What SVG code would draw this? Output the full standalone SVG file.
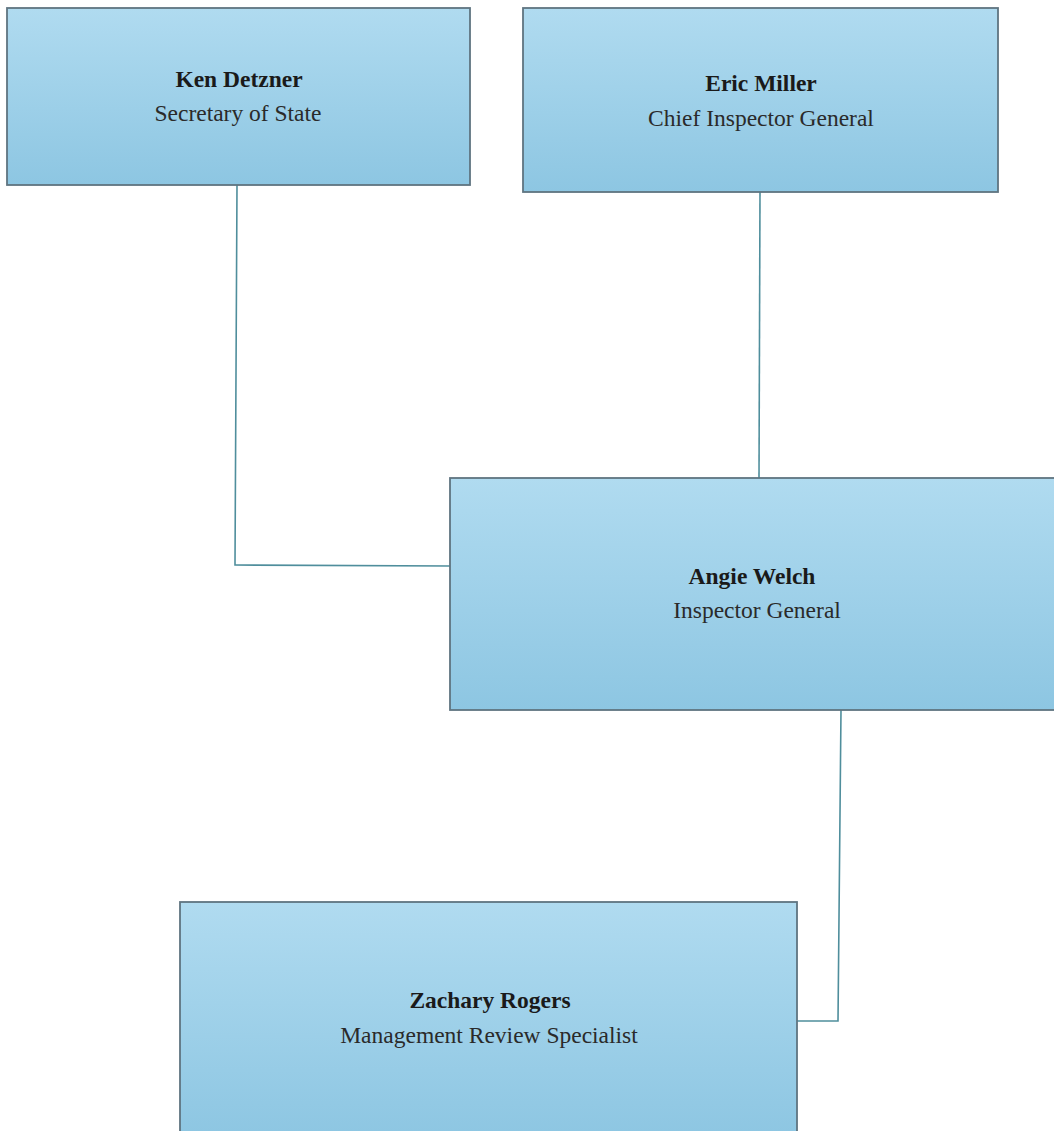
<svg xmlns="http://www.w3.org/2000/svg" width="1054" height="1131" viewBox="0 0 1054 1131">
<defs>
<linearGradient id="g" x1="0" y1="0" x2="0" y2="1">
<stop offset="0" stop-color="#b0dbf0"/>
<stop offset="1" stop-color="#8dc6e2"/>
</linearGradient>
<style>
.box{fill:url(#g);stroke:#5f7480;stroke-width:1.8}
.name{font-family:"Liberation Serif",serif;font-size:23.5px;font-weight:bold;fill:#1a1a1a;text-anchor:middle}
.title{font-family:"Liberation Serif",serif;font-size:23.5px;fill:#2a2a2a;text-anchor:middle}
.con{fill:none;stroke:#4f8e9c;stroke-width:1.6}
</style>
</defs>
<rect width="1054" height="1131" fill="#ffffff"/>
<g id="connectors">
<polyline class="con" points="237,185 235,565 450,566"/>
<line class="con" x1="760" y1="192" x2="759" y2="478"/>
<polyline class="con" points="841,710 838,1021 797,1021"/>
</g>
<g id="ken">
<rect class="box" x="7" y="8" width="463" height="177"/>
<text class="name" x="239" y="87">Ken Detzner</text>
<text class="title" x="238" y="121">Secretary of State</text>
</g>
<g id="eric">
<rect class="box" x="523" y="8" width="475" height="184"/>
<text class="name" x="761" y="91">Eric Miller</text>
<text class="title" x="761" y="126">Chief Inspector General</text>
</g>
<g id="angie">
<rect class="box" x="450" y="478" width="610" height="232"/>
<text class="name" x="752" y="584">Angie Welch</text>
<text class="title" x="757" y="618">Inspector General</text>
</g>
<g id="zachary">
<rect class="box" x="180" y="902" width="617" height="235"/>
<text class="name" x="490" y="1008">Zachary Rogers</text>
<text class="title" x="489" y="1043">Management Review Specialist</text>
</g>
</svg>
